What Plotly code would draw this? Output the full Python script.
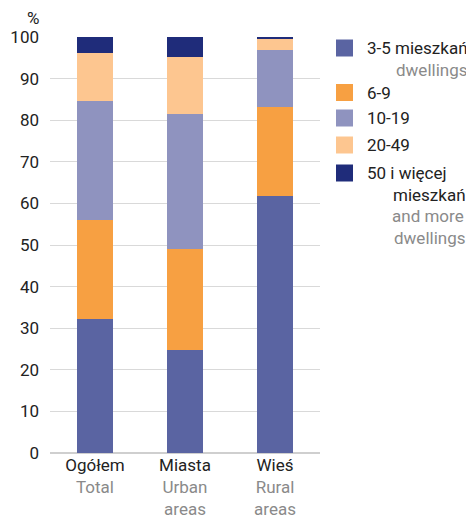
import plotly.graph_objects as go

categories = ["Ogółem", "Miasta", "Wieś"]
categories_en = ["Total", "Urban<br>areas", "Rural<br>areas"]

series_names = ["3-5 mieszkań", "6-9", "10-19", "20-49", "50 i więcej mieszkań"]
v_3_5 = [32.3, 24.8, 61.9]
v_6_9 = [23.8, 24.2, 21.3]
v_10_19 = [28.4, 32.5, 13.6]
v_20_49 = [11.6, 13.7, 2.8]
v_50_plus = [3.9, 4.8, 0.4]
colors = ["#5A64A2", "#F7A042", "#8F93BF", "#FDC690", "#1F2C7A"]

y_ticks = list(range(0, 101, 10))

FONT = "Roboto"
DARK = "#222222"
GRAY = "#8a8a8a"
FS = 17

# page offset (body margin) compensation
OFF = 8
W, H = 474 - OFF, 518 - OFF
L, T, R, B = 50 - OFF, 37 - OFF, 154, 65

fig = go.Figure()
for name, vals, col in zip(series_names, [v_3_5, v_6_9, v_10_19, v_20_49, v_50_plus], colors):
    fig.add_trace(go.Bar(x=categories, y=vals, name=name, marker=dict(color=col, line=dict(width=0)),
                         width=0.4, showlegend=False))

ticktext = [f"{pl}<br><span style='color:{GRAY}'>{en}</span>" for pl, en in zip(categories, categories_en)]

fig.update_layout(
    barmode="stack",
    width=W, height=H,
    margin=dict(l=L, r=R, t=T, b=B),
    paper_bgcolor="white", plot_bgcolor="white",
    font=dict(family=FONT, size=FS, color=DARK),
    xaxis=dict(tickvals=categories, ticktext=ticktext, range=[-0.5, 2.5], automargin=False,
               showgrid=False, showline=False, ticks="",
               tickfont=dict(size=FS, color=DARK)),
    yaxis=dict(range=[0, 100], tickvals=y_ticks, showgrid=True, gridcolor="#d9d9d9", gridwidth=1.2,
               automargin=False,
               zeroline=True, zerolinecolor="#cfcfcf", zerolinewidth=1.5, ticks="",
               ticklabelstandoff=10, tickfont=dict(size=FS, color=DARK)),
)

plot_h = H - T - B
plot_w = W - L - R
def px_to_paper(px, py):
    # px, py are page pixel coordinates of the target picture
    return (px - OFF - L) / plot_w, (H - B - (py - OFF)) / plot_h

ax, ay = px_to_paper(33, 18)
fig.add_annotation(text="%", xref="paper", yref="paper", x=ax, y=ay,
                   showarrow=False, font=dict(size=FS, color=DARK), xanchor="center", yanchor="middle")

legend_items = [
    (48, [("3-5 mieszkań", DARK, 365), ("dwellings", GRAY, 394)]),
    (92.5, [("6-9", DARK, 365)]),
    (118, [("10-19", DARK, 365)]),
    (145, [("20-49", DARK, 365)]),
    (173, [("50 i więcej", DARK, 365), ("mieszkań", DARK, 391), ("and more", GRAY, 390), ("dwellings", GRAY, 392)]),
]
for i, (cy, lines) in enumerate(legend_items):
    x0, y0 = px_to_paper(336, cy - 8.5)
    x1, y1 = px_to_paper(353, cy + 8.5)
    fig.add_shape(type="rect", xref="paper", yref="paper", x0=x0, x1=x1, y0=y0, y1=y1,
                  fillcolor=colors[i], line=dict(width=0))
    for j, (txt, col, tx) in enumerate(lines):
        ax, ay = px_to_paper(tx, cy + j * 21.7)
        fig.add_annotation(text=txt, xref="paper", yref="paper", x=ax, y=ay, showarrow=False,
                           xanchor="left", yanchor="middle", font=dict(size=FS, color=col))

fig.write_html("out.html")
